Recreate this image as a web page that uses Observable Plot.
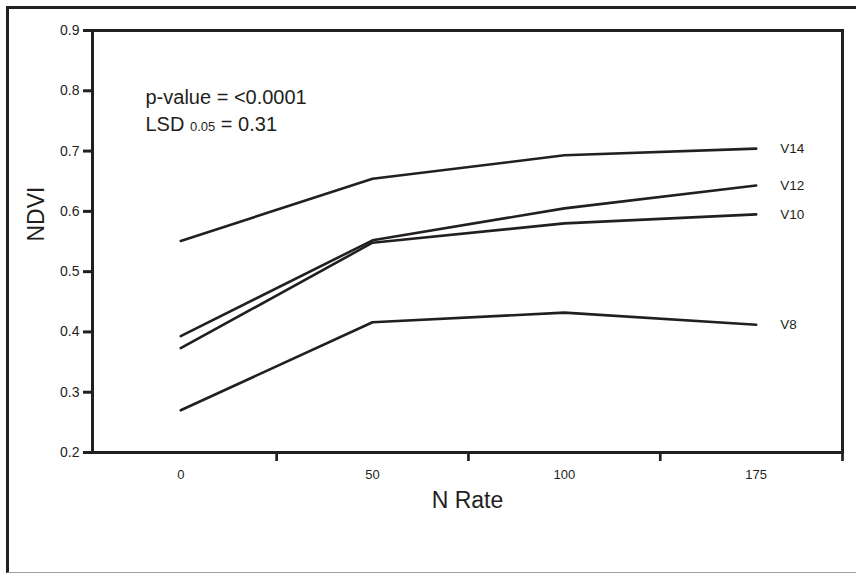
<!DOCTYPE html>
<html><head><meta charset="utf-8">
<script src="https://cdn.jsdelivr.net/npm/d3@7"></script>
<script src="https://cdn.jsdelivr.net/npm/@observablehq/plot@0.6"></script>
<style>
body{margin:0;background:#fff;}
#wrap{position:relative;width:856px;height:573px;overflow:hidden;}
#border{position:absolute;left:6px;top:6px;width:900px;height:567px;border-left:3px solid #231f20;border-top:3px solid #231f20;border-bottom:1px solid #a0a0a0;box-sizing:border-box;}
#chart{position:absolute;left:0;top:0;}
</style></head><body>
<div id="wrap"><div id="border"></div><div id="chart"></div></div>
<script>
// N rate categories (x axis tick labels)
const nRates = ["0", "50", "100", "175"];
// Series names
const seriesNames = ["V14", "V12", "V10", "V8"];
// NDVI values per series, one per N rate
const v14 = [0.551, 0.654, 0.693, 0.704];
const v12 = [0.393, 0.552, 0.605, 0.643];
const v10 = [0.373, 0.548, 0.580, 0.595];
const v8  = [0.270, 0.416, 0.432, 0.412];
// y axis ticks
const yTicks = [0.2, 0.3, 0.4, 0.5, 0.6, 0.7, 0.8, 0.9];
// texts
const yLabel = "NDVI";
const xLabel = "N Rate";
const pValueText = "p-value = <0.0001";
const lsdName = "LSD", lsdSub = "0.05", lsdValue = "0.31";

const ink = "#231f20";
const seriesValues = [v14, v12, v10, v8];
const data = seriesNames.flatMap((s, k) => seriesValues[k].map((v, i) => ({series: s, i, value: v})));
const lastPoints = seriesNames.map((s, k) => ({series: s, i: nRates.length - 1, value: seriesValues[k][nRates.length - 1]}));
const idx = nRates.map((_, i) => i);
const boundaries = idx.slice(0, -1).map(i => i + 0.5);

const chart = Plot.plot({
  width: 856,
  height: 573,
  marginLeft: 92,
  marginRight: 14,
  marginTop: 30,
  marginBottom: 121,
  style: {fontFamily: "'Liberation Sans', Arial, sans-serif", color: ink, background: "transparent"},
  x: {type: "linear", domain: [-0.46, 3.45]},
  y: {type: "linear", domain: [0.2, 0.9]},
  marks: [
    Plot.frame({stroke: ink, strokeWidth: 3}),
    Plot.axisY(yTicks, {tickSize: 9, tickPadding: 4, strokeWidth: 3, stroke: ink, fontSize: 14, tickFormat: d => d.toFixed(1), label: null}),
    Plot.axisX([...boundaries, 3.45], {tickSize: 9, strokeWidth: 2.7, stroke: ink, tickFormat: () => "", label: null}),
    Plot.axisX(idx, {tickSize: 0, tickPadding: 17, fontSize: 13, tickFormat: i => nRates[i], label: null}),
    Plot.line(data, {x: "i", y: "value", z: "series", stroke: ink, strokeWidth: 2.6}),
    Plot.text(lastPoints, {x: "i", y: "value", text: "series", dx: 24, textAnchor: "start", fontSize: 13.5, fill: ink}),
    Plot.text([yLabel], {frameAnchor: "left", dx: -56, rotate: -90, fontSize: 23, fill: ink}),
    Plot.text([xLabel], {frameAnchor: "bottom", dy: 55, fontSize: 23, fill: ink}),
    Plot.text([pValueText], {frameAnchor: "top-left", dx: 53, dy: 59, textAnchor: "start", fontSize: 20, fill: ink}),
    Plot.text([lsdName], {frameAnchor: "top-left", dx: 53, dy: 86, textAnchor: "start", fontSize: 20, fill: ink, className: "lsd"})
  ]
});
document.getElementById("chart").appendChild(chart);
const t = d3.select(chart).select(".lsd text");
t.text("");
t.append("tspan").text(lsdName + " ");
t.append("tspan").attr("font-size", 13).text(lsdSub);
t.append("tspan").text(" = " + lsdValue);
</script>
</body></html>
